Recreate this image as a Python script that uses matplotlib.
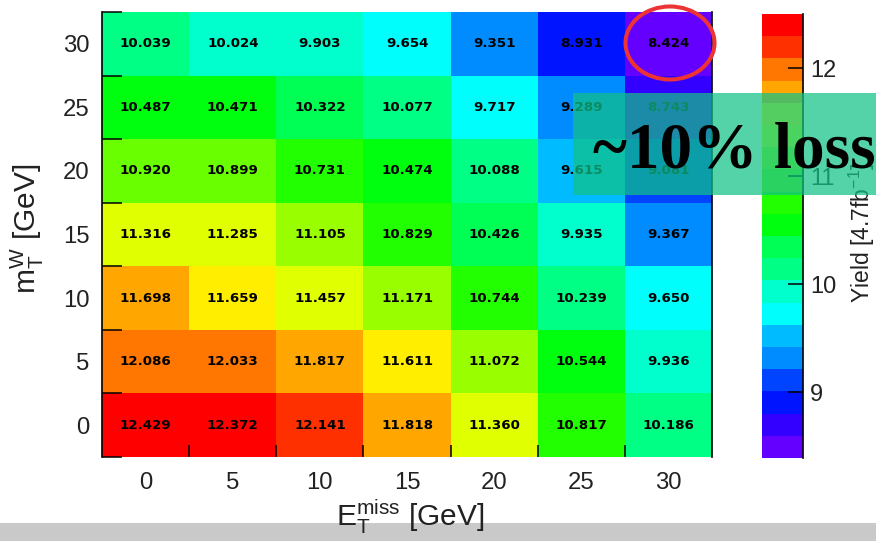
import colorsys
import numpy as np
import matplotlib
matplotlib.use("Agg")
import matplotlib.pyplot as plt
from matplotlib.colors import ListedColormap, Normalize
from matplotlib.patches import Rectangle, Ellipse

# ---------------- data ----------------
met_cuts = [0, 5, 10, 15, 20, 25, 30]          # E_T^miss cut [GeV] (x)
mtw_cuts = [0, 5, 10, 15, 20, 25, 30]          # m_T^W cut [GeV] (y)
x_labels = ["0", "5", "10", "15", "20", "25", "30"]
y_labels = ["0", "5", "10", "15", "20", "25", "30"]
# yields, rows = m_T^W cut (0 -> 30), columns = E_T^miss cut (0 -> 30)
yield_mtw0 = [12.429, 12.372, 12.141, 11.818, 11.360, 10.817, 10.186]
yield_mtw5 = [12.086, 12.033, 11.817, 11.611, 11.072, 10.544, 9.936]
yield_mtw10 = [11.698, 11.659, 11.457, 11.171, 10.744, 10.239, 9.650]
yield_mtw15 = [11.316, 11.285, 11.105, 10.829, 10.426, 9.935, 9.367]
yield_mtw20 = [10.920, 10.899, 10.731, 10.474, 10.088, 9.615, 9.081]
yield_mtw25 = [10.487, 10.471, 10.322, 10.077, 9.717, 9.289, 8.743]
yield_mtw30 = [10.039, 10.024, 9.903, 9.654, 9.351, 8.931, 8.424]
cb_ticks = [9, 10, 11, 12]
x_title = r"E$_\mathregular{T}^\mathregular{miss}$ [GeV]"
y_title = r"m$_\mathregular{T}^\mathregular{W}$ [GeV]"
z_title = r"Yield [4.7fb$^\mathregular{-1}$]"
note_text = "~10% loss"

# ---------------- style ----------------
W, H = 876, 541
plt.rcParams["font.family"] = ["Liberation Sans", "DejaVu Sans"]
plt.rcParams["mathtext.fontset"] = "custom"
plt.rcParams["mathtext.rm"] = "Liberation Sans"
plt.rcParams["mathtext.it"] = "Liberation Sans:italic"

# ROOT "pretty" palette, 20 contour levels
ncont, npal = 20, 50
pal_colors = []
for k in range(ncont):
    i = int((k + 0.99) * npal / ncont)
    hue = (280.0 - (i + 1) * 280.0 / npal) / 360.0
    pal_colors.append(colorsys.hls_to_rgb(hue, 0.5, 1.0))
cmap = ListedColormap(pal_colors)
norm = Normalize(vmin=8.39, vmax=12.50)

Z = np.array([yield_mtw0, yield_mtw5, yield_mtw10, yield_mtw15,
              yield_mtw20, yield_mtw25, yield_mtw30])
xc = np.array(met_cuts, dtype=float)
yc = np.array(mtw_cuts, dtype=float)
hx = (xc[1] - xc[0]) / 2
hy = (yc[1] - yc[0]) / 2
xe = np.append(xc - hx, xc[-1] + hx)
ye = np.append(yc - hy, yc[-1] + hy)

def fx(px):
    return px / W

def fy(py):
    return 1 - py / H

fig = plt.figure(figsize=(W / 100, H / 100), dpi=100)
fig.patch.set_facecolor("white")

# gray strip at bottom (slide background)
fig.add_artist(Rectangle((0, 0), 1, fy(523), transform=fig.transFigure,
                         facecolor="#c9c9c9", edgecolor="none", zorder=-5))

ax = fig.add_axes([fx(102), fy(457), fx(712) - fx(102), fy(12) - fy(457)])
mesh = ax.pcolormesh(xe, ye, Z, cmap=cmap, norm=norm, shading="flat")
for r, yv in enumerate(yc):
    for c, xv in enumerate(xc):
        ax.text(xv, yv, f"{Z[r, c]:.3f}", ha="center", va="center",
                fontsize=9.6, fontweight="bold", family="DejaVu Sans",
                color="black")
ax.set_xlim(xe[0], xe[-1])
ax.set_ylim(ye[0], ye[-1])
ax.set_xticks(xc)
ax.set_xticklabels(x_labels)
ax.set_yticks(yc)
ax.set_yticklabels(y_labels)
ax.set_xticks(xe[1:-1], minor=True)
ax.set_yticks(ye, minor=True)
ax.tick_params(axis="both", which="major", length=0, labelsize=17.2,
               labelcolor="#222222")
ax.tick_params(axis="x", which="major", pad=10.5)
ax.tick_params(axis="y", which="major", pad=9)
ax.tick_params(axis="x", which="minor", direction="in", length=8.6,
               width=1.1, color="black")
ax.tick_params(axis="y", which="minor", direction="in", length=14.4,
               width=1.1, color="black")
for s in ["top", "bottom"]:
    ax.spines[s].set_visible(False)
for s in ["left", "right"]:
    ax.spines[s].set_linewidth(1.2)
    ax.spines[s].set_color("black")

fig.text(fx(410), fy(517), x_title, ha="center", va="center",
         fontsize=21.5, color="#222222")
fig.text(fx(27), fy(229), y_title, ha="center", va="center",
         rotation=90, fontsize=21.5, color="#222222")

# colour bar
cax = fig.add_axes([fx(762), fy(458), fx(803) - fx(762), fy(14) - fy(458)])
cb = fig.colorbar(mesh, cax=cax)
cb.outline.set_visible(False)
cb.set_ticks(cb_ticks)
cb.set_ticklabels([str(t) for t in cb_ticks])
cax.tick_params(axis="y", which="major", direction="in", length=10.8,
                width=1.1, labelsize=17.0, pad=5, labelcolor="#222222")
cax.minorticks_off()
cax.plot([1, 1], [0, 1], transform=cax.transAxes, color="black",
         lw=1.2, clip_on=False)
fig.text(fx(862), fy(233), z_title, ha="center", va="center", rotation=90,
         fontsize=16.5, color="#222222")

# slide annotations
fig.add_artist(Ellipse((fx(670), fy(43)), 89 / W, 73 / H,
                       transform=fig.transFigure, facecolor="none",
                       edgecolor="#ec3434", lw=2.9, zorder=12))
fig.add_artist(Rectangle((fx(573), fy(195)), 1 - fx(573), fy(93) - fy(195),
                         transform=fig.transFigure, facecolor="#12c287",
                         edgecolor="none", alpha=0.72, zorder=10))
fig.text(fx(593), fy(168), note_text, ha="left", va="baseline",
         fontsize=47, fontweight="bold", family="Liberation Serif",
         color="black", zorder=11)

fig.savefig("out.png", dpi=100)
